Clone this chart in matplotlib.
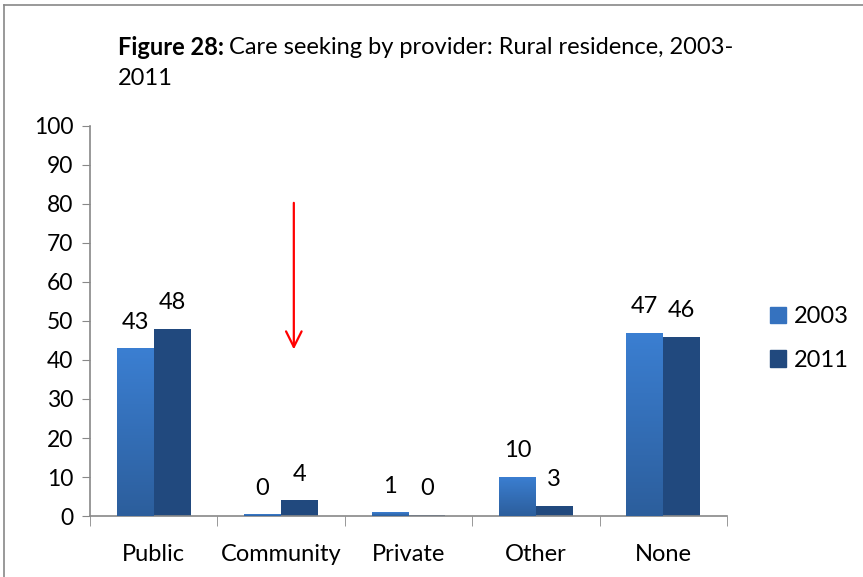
import numpy as np
import matplotlib.pyplot as plt
from matplotlib.lines import Line2D
from matplotlib.patches import Rectangle
from matplotlib.colors import LinearSegmentedColormap

plt.rcParams['font.family'] = ['Lato', 'DejaVu Sans']

providers = ['Public', 'Community', 'Private', 'Other', 'None']
years = ['2003', '2011']
rural_2003 = [43, 0.4, 1, 10, 47]
rural_2011 = [48, 4, 0.3, 2.6, 46]

fig = plt.figure(figsize=(8.63, 5.77), dpi=100)
ax = fig.add_axes([0.1043, 0.1057, 0.738, 0.676])

x = np.arange(len(providers))
w = 0.29

# 2003 bars get a vertical gradient, 2011 bars are flat navy
grad = np.linspace(0, 1, 256).reshape(-1, 1)
cmap03 = LinearSegmentedColormap.from_list('b03', ['#2c5e9c', '#3b7fd2'])

bars03 = ax.bar(x - w / 2, rural_2003, w, color='#3572bf', zorder=2)
bars11 = ax.bar(x + w / 2, rural_2011, w, color='#21497e', zorder=2)

for b in bars03:
    x0, y0 = b.get_x(), b.get_y()
    im = ax.imshow(grad, cmap=cmap03, origin='lower', aspect='auto',
                   extent=[x0, x0 + b.get_width(), y0, y0 + b.get_height()],
                   zorder=3)
    im.set_clip_path(b)

for bars, vals in ((bars03, rural_2003), (bars11, rural_2011)):
    for b, v in zip(bars, vals):
        ax.text(b.get_x() + b.get_width() / 2, v + 4.0, '%.0f' % round(v),
                ha='center', va='bottom', fontsize=17, color='black')

ax.set_xlim(-0.5, len(providers) - 0.5)
ax.set_ylim(0, 100)
ax.set_yticks(np.arange(0, 101, 10))
ax.set_xticks(x)
ax.set_xticklabels(providers)
ax.set_xticks(np.arange(-0.5, len(providers), 1), minor=True)
ax.tick_params(axis='x', which='major', length=0, pad=20, labelsize=17)
ax.tick_params(axis='x', which='minor', length=7, color='#888888', direction='out')
ax.tick_params(axis='y', length=6, color='#888888', labelsize=16.5, pad=6)
for s in ['top', 'right']:
    ax.spines[s].set_visible(False)
for s in ['left', 'bottom']:
    ax.spines[s].set_color('#888888')
    ax.spines[s].set_linewidth(1.2)

# red arrow pointing at the community group
ax.annotate('', xy=(1.1, 42), xytext=(1.1, 81),
            arrowprops=dict(arrowstyle='->', color='#ff0000', lw=1.6,
                            mutation_scale=28))

# legend
handles = [Rectangle((0, 0), 1, 1, color='#3572bf'),
           Rectangle((0, 0), 1, 1, color='#21497e')]
fig.legend(handles, years, loc='center left', bbox_to_anchor=(0.892, 0.413),
           frameon=False, fontsize=17, handlelength=0.7, handleheight=0.7,
           labelspacing=0.95, handletextpad=0.3, borderpad=0, borderaxespad=0)

# title: bold label followed by regular text
t1 = fig.text(0.137, 0.918, 'Figure 28:', fontsize=17, fontweight='bold', va='center')
fig.canvas.draw()
bb = t1.get_window_extent(renderer=fig.canvas.get_renderer())
fig.text(bb.x1 / fig.bbox.width + 0.005, 0.918,
         'Care seeking by provider: Rural residence, 2003-',
         fontsize=17, va='center')
fig.text(0.137, 0.864, '2011', fontsize=17, va='center')

# frame lines along top and left edge
fig.add_artist(Line2D([0.005, 0.005], [0, 0.992], color='#888888', lw=1.2))
fig.add_artist(Line2D([0.005, 1], [0.992, 0.992], color='#888888', lw=1.2))

fig.savefig('out.png', dpi=100)
